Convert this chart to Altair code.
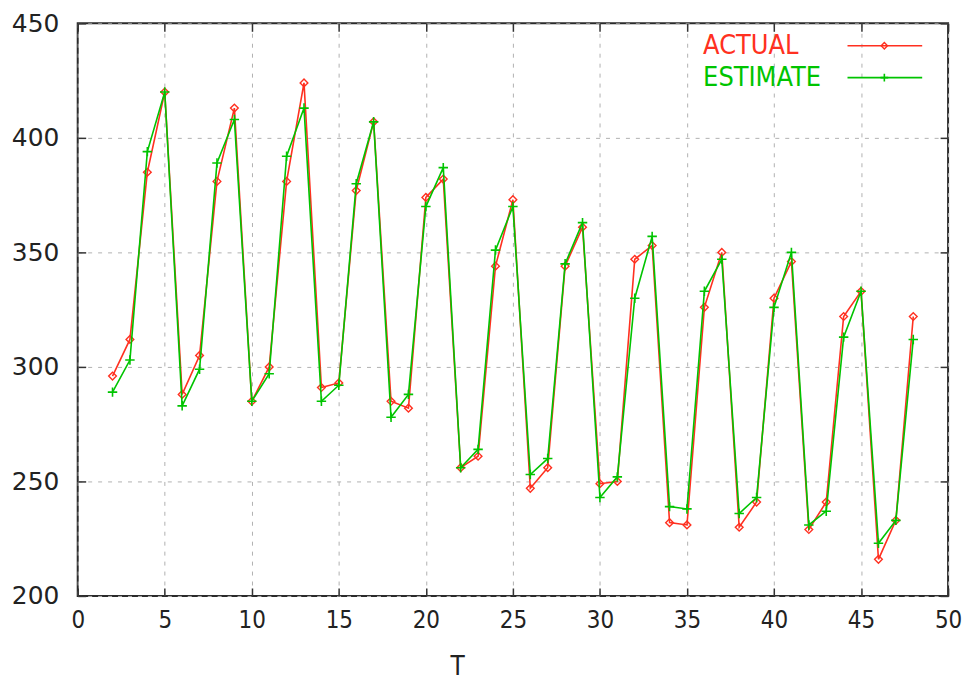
import altair as alt
import pandas as pd

T = list(range(2, 49))
actual = [296, 312, 385, 420, 288, 305, 381, 413, 285, 300,
          381, 424, 291, 293, 377, 407, 285, 282, 374, 382,
          256, 261, 344, 373, 247, 256, 344, 361, 249, 250,
          347, 353, 232, 231, 326, 350, 230, 241, 330, 346,
          229, 241, 322, 333, 216, 233, 322]
estimate = [289, 303, 394, 420, 283, 299, 389, 408, 285, 297,
            392, 413, 285, 292, 380, 407, 278, 288, 370, 387,
            256, 264, 351, 370, 253, 260, 345, 363, 243, 252,
            330, 357, 239, 238, 333, 347, 236, 243, 326, 350,
            231, 237, 313, 333, 223, 233, 312]
series_names = ["ACTUAL", "ESTIMATE"]
x_ticks = list(range(0, 51, 5))
y_ticks = list(range(200, 451, 50))

RED = "#ff3020"
GREEN = "#00c400"
NARROW = "Liberation Sans Narrow, DejaVu Sans Condensed, Liberation Sans, sans-serif"
WIDE = "DejaVu Sans, sans-serif"

df_a = pd.DataFrame({"T": T, "value": actual})
df_e = pd.DataFrame({"T": T, "value": estimate})

x_scale = alt.Scale(domain=[0, 50], nice=False, zero=False)
y_scale = alt.Scale(domain=[200, 450], nice=False, zero=False)

x_axis = alt.Axis(values=x_ticks, grid=True, gridColor="#b0b0b0", gridDash=[4, 6],
                  gridWidth=1, domain=False, ticks=True, tickSize=8, tickColor="#333333",
                  tickWidth=1.5, offset=-8, labelPadding=13, labelFlush=False, labelFont=NARROW,
                  labelFontSize=24, labelColor="#222222", title="T",
                  titleFont=NARROW, titleFontSize=26, titleFontWeight="normal",
                  titleColor="#222222", titleX=381, titleY=92, titleBaseline="bottom",
                  titleAnchor="start", titleAlign="center")
y_axis = alt.Axis(values=y_ticks, grid=True, gridColor="#b0b0b0", gridDash=[4, 6],
                  gridWidth=1, domain=False, ticks=True, tickSize=8, tickColor="#333333",
                  tickWidth=1.5, offset=-8, labelPadding=19, labelFlush=False, labelFont=WIDE,
                  labelFontSize=25, labelColor="#222222", title=None)

x_enc = alt.X("T:Q", scale=x_scale, axis=x_axis)
y_enc = alt.Y("value:Q", scale=y_scale, axis=y_axis)

line_a = alt.Chart(df_a).mark_line(color=RED, strokeWidth=1.6).encode(x=x_enc, y=y_enc)
pts_a = alt.Chart(df_a).mark_point(shape="diamond", size=60, color=RED, strokeWidth=1.4,
                                   filled=False, opacity=1).encode(x="T:Q", y="value:Q")
line_e = alt.Chart(df_e).mark_line(color=GREEN, strokeWidth=1.6).encode(x="T:Q", y="value:Q")
plus = "M-1,0L1,0M0,-1L0,1"
pts_e = alt.Chart(df_e).mark_point(shape=plus, size=90, color=GREEN, strokeWidth=1.6,
                                   filled=False, opacity=1).encode(x="T:Q", y="value:Q")

# mirrored ticks on top and right
mirror = alt.Chart(df_a).mark_point(opacity=0).encode(
    x=alt.X("T:Q", scale=x_scale,
            axis=alt.Axis(orient="top", values=x_ticks, labels=False, grid=False, domain=False,
                          tickSize=8, tickColor="#333333", tickWidth=1.5, offset=-8, title=None)),
    y=alt.Y("value:Q", scale=y_scale,
            axis=alt.Axis(orient="right", values=y_ticks, labels=False, grid=False, domain=False,
                          tickSize=8, tickColor="#333333", tickWidth=1.5, offset=-8, title=None)),
)

legend_df = pd.DataFrame({"label": series_names})
leg_a = alt.Chart(legend_df.iloc[[0]]).mark_text(align="left", baseline="middle", font=NARROW,
                                                 fontSize=27, color=RED).encode(
    x=alt.value(628), y=alt.value(23), text="label:N")
leg_e = alt.Chart(legend_df.iloc[[1]]).mark_text(align="left", baseline="middle", font=NARROW,
                                                 fontSize=27, color=GREEN).encode(
    x=alt.value(628), y=alt.value(55), text="label:N")
leg_la = alt.Chart(legend_df.iloc[[0]]).mark_rule(color=RED, strokeWidth=1.6).encode(
    x=alt.value(773), x2=alt.value(848), y=alt.value(22.5))
leg_le = alt.Chart(legend_df.iloc[[1]]).mark_rule(color=GREEN, strokeWidth=1.6).encode(
    x=alt.value(773), x2=alt.value(848), y=alt.value(54.5))
leg_pa = alt.Chart(legend_df.iloc[[0]]).mark_point(shape="diamond", size=40, color=RED,
                                                   strokeWidth=1.4, opacity=1).encode(
    x=alt.value(810), y=alt.value(22.5))
leg_pe = alt.Chart(legend_df.iloc[[1]]).mark_point(shape=plus, size=60, color=GREEN,
                                                   strokeWidth=1.6, opacity=1).encode(
    x=alt.value(810), y=alt.value(54.5))

main = alt.layer(line_a, pts_a, line_e, pts_e)
chart = alt.layer(main, mirror, leg_a, leg_e, leg_la, leg_le, leg_pa, leg_pe).resolve_axis(
    x="independent", y="independent"
).properties(
    width=874, height=575,
    autosize=alt.AutoSizeParams(type="none"),
    padding={"left": 70, "top": 14, "right": 20, "bottom": 85},
    background="white",
).configure_view(stroke="#2a2a2a", strokeWidth=2)

chart.save("out.html", embed_options={"renderer": "svg", "actions": False})
